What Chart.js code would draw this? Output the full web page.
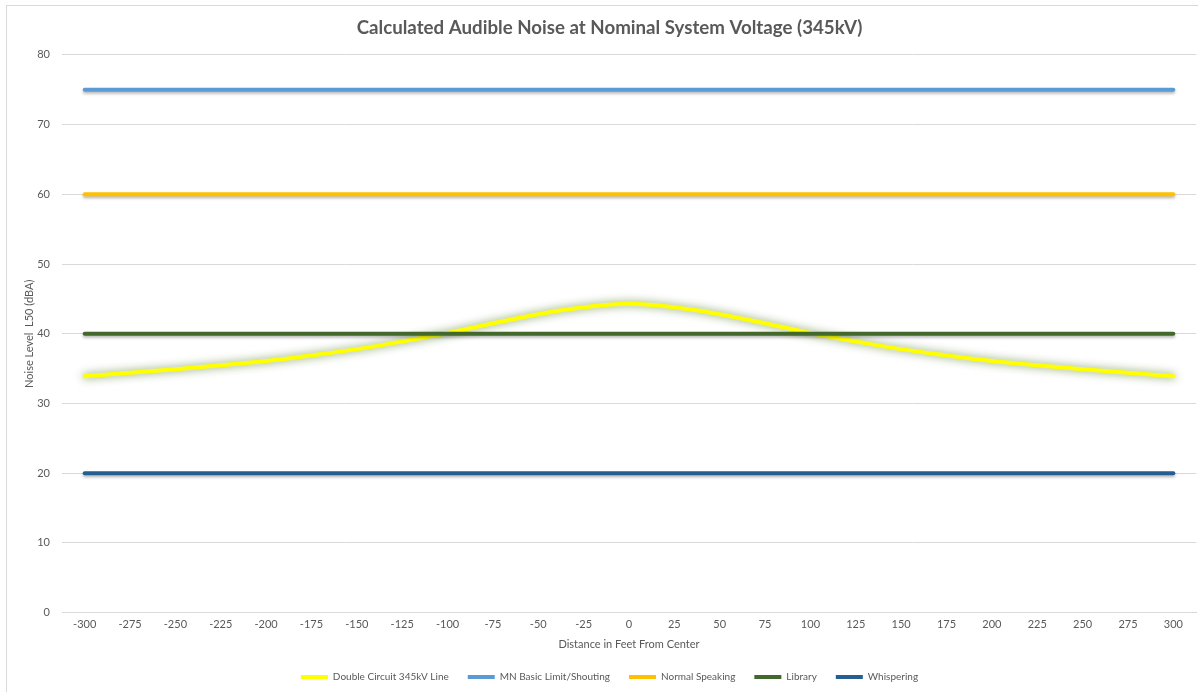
<!DOCTYPE html>
<html>
<head>
<meta charset="utf-8">
<script src="https://cdn.jsdelivr.net/npm/chart.js@4"></script>
<style>
  html, body { margin: 0; padding: 0; background: #fff; overflow: hidden; }
  #frame { position: absolute; left: 6px; top: 5px; right: -10px; bottom: -10px; border: 1px solid #d9d9d9; }
  #wrap { position: absolute; left: 0; top: 0; width: 1198px; height: 692px; }
</style>
</head>
<body>
<div id="frame"></div>
<div id="wrap"><canvas id="noiseChart" width="1198" height="692"></canvas></div>
<script>
// ===== DATA =====
const distances = ['-300', '-275', '-250', '-225', '-200', '-175', '-150', '-125', '-100', '-75', '-50', '-25', '0',
  '25', '50', '75', '100', '125', '150', '175', '200', '225', '250', '275', '300'];
const doubleCircuit = [33.9, 34.4, 34.9, 35.5, 36.1, 36.9, 37.8, 38.9, 40.1, 41.5, 42.8, 43.8, 44.3,
  43.8, 42.8, 41.5, 40.1, 38.9, 37.8, 36.9, 36.1, 35.5, 34.9, 34.4, 33.9];
const shoutingLimit = distances.map(() => 75);
const normalSpeaking = distances.map(() => 60);
const library = distances.map(() => 40);
const whispering = distances.map(() => 20);

const textGray = '#595959';
const gridGray = '#d9d9d9';
const baseFont = 'Lato, "Liberation Sans", sans-serif';

// ===== GLOW / SHADOW =====
const lineShadow = {
  id: 'lineShadow',
  beforeDatasetDraw(chart, args) {
    const ctx = chart.ctx;
    ctx.save();
    if (args.index === 0) {
      ctx.shadowColor = 'rgba(90,130,50,0.85)';
      ctx.shadowBlur = 9;
    } else {
      ctx.shadowColor = 'rgba(0,0,0,0.28)';
      ctx.shadowBlur = 3;
      ctx.shadowOffsetY = 2;
    }
  },
  afterDatasetDraw(chart) {
    chart.ctx.restore();
  }
};

function series(label, data, color, order) {
  return {
    label, data, order,
    borderColor: color,
    backgroundColor: color,
    borderWidth: 4,
    borderCapStyle: 'round',
    pointRadius: 0,
    pointHoverRadius: 0,
    tension: 0.4,
    fill: false
  };
}

new Chart(document.getElementById('noiseChart'), {
  type: 'line',
  data: {
    labels: distances,
    datasets: [
      series('Double Circuit 345kV Line', doubleCircuit, '#ffff00', 5),
      series('MN Basic Limit/Shouting', shoutingLimit, '#5b9bd5', 4),
      series('Normal Speaking', normalSpeaking, '#ffc000', 3),
      series('Library', library, '#43682b', 2),
      series('Whispering', whispering, '#255e91', 1)
    ]
  },
  options: {
    responsive: false,
    animation: false,
    layout: { padding: { left: 23, right: 2, top: 0, bottom: 0 } },
    plugins: {
      title: {
        display: true,
        text: 'Calculated Audible Noise at Nominal System Voltage (345kV)',
        color: textGray,
        font: { family: baseFont, size: 18.7, weight: 'bold' },
        padding: { top: 17, bottom: 15.5 }
      },
      legend: {
        position: 'bottom',
        labels: {
          color: textGray,
          font: { family: baseFont, size: 10 },
          usePointStyle: true,
          pointStyle: 'line',
          pointStyleWidth: 27,
          padding: 19,
          sort: (a, b) => a.datasetIndex - b.datasetIndex
        }
      },
      tooltip: { enabled: false }
    },
    scales: {
      x: {
        offset: true,
        grid: { display: false, drawTicks: false },
        border: { color: gridGray },
        ticks: { color: textGray, font: { family: baseFont, size: 11 }, maxRotation: 0, autoSkip: false, padding: 5 },
        title: { display: true, text: 'Distance in Feet From Center', color: textGray, font: { family: baseFont, size: 11 }, padding: { top: 2, bottom: 2 } }
      },
      y: {
        min: 0,
        max: 80,
        afterFit: (scale) => { scale.width = 39; },
        ticks: { stepSize: 10, color: textGray, font: { family: baseFont, size: 11 }, padding: 12 },
        grid: { color: gridGray, drawTicks: false },
        border: { display: false },
        title: { display: true, text: 'Noise Level  L50 (dBA)', color: textGray, font: { family: baseFont, size: 11 }, padding: { top: 0, bottom: 0 } }
      }
    }
  },
  plugins: [lineShadow]
});
</script>
</body>
</html>
